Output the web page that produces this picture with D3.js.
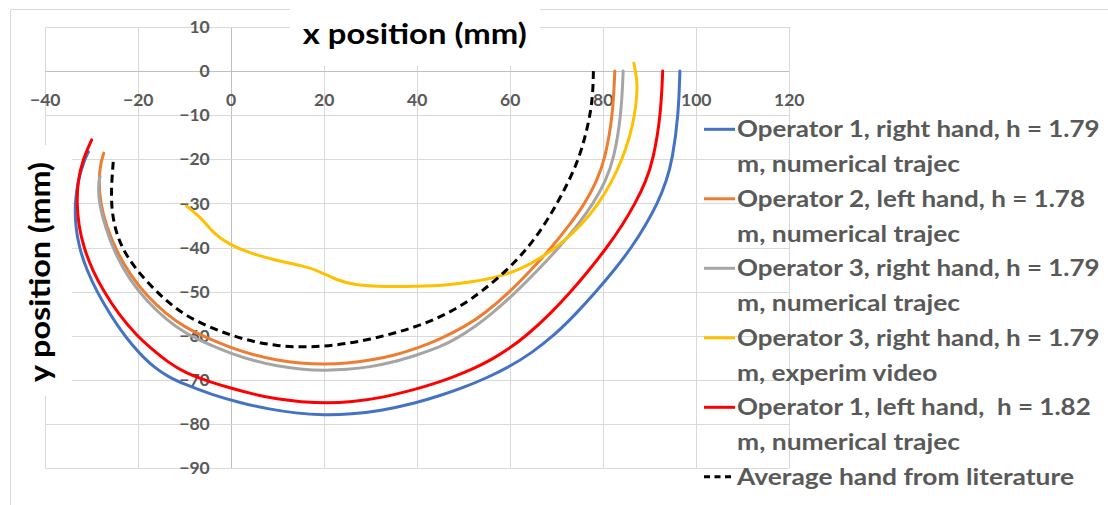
<!DOCTYPE html>
<html>
<head>
<meta charset="utf-8">
<script src="https://cdn.jsdelivr.net/npm/d3@7/dist/d3.min.js"></script>
<style>
  html, body { margin: 0; padding: 0; background: #fff; }
  svg { display: block; font-family: Lato, "Open Sans", sans-serif; }
  text { white-space: pre; }
</style>
</head>
<body>
<svg id="chart" width="1108" height="505"></svg>
<script>
// Hand trajectories in the horizontal plane, x/y in mm
const op1Right = [[96.6,0],[96.3,-10],[95.0,-20],[93.7,-25],[91.8,-30],[89.2,-35],[86.2,-40],[82.6,-45],[78.6,-50],[74.3,-55],[69.5,-60],[64.6,-64],[60,-67],[55,-69.6],[50,-71.8],[45,-73.6],[40,-75.2],[32,-77.1],[26,-77.8],[20,-78],[14,-77.6],[8,-76.6],[2,-75.2],[-4,-73.4],[-10,-71],[-13.5,-69.3],[-16.5,-67.1],[-18.7,-65],[-21.3,-62],[-23.7,-58.7],[-26,-55],[-28.8,-50],[-31,-45],[-32.6,-40],[-33.4,-35],[-33.5,-30],[-32.9,-25],[-31.6,-20.5],[-30.6,-18.3]];
const op2Left = [[82.6,0],[82.2,-10],[80.5,-20],[78.7,-25],[76.2,-30],[72.8,-35],[69.0,-40],[64.7,-45],[60.1,-50],[54.6,-55],[50.6,-57.8],[45,-60.8],[40,-62.9],[35,-64.5],[30,-65.6],[25,-66.3],[20,-66.5],[15,-66.3],[10,-65.6],[5,-64.4],[0,-62.7],[-5,-60.6],[-10,-58.0],[-14,-55.0],[-18,-51.0],[-21.5,-46.4],[-24.5,-41],[-26.8,-35],[-28.0,-30],[-28.4,-25],[-28.0,-21],[-27.3,-18.6]];
const op3RightNum = [[84.4,0],[84.0,-10],[82.4,-20],[80.6,-25],[78.0,-30],[74.6,-35],[70.6,-40],[66.2,-45],[61.5,-50],[56.2,-55],[52.5,-58],[48.8,-60.5],[45,-62.6],[40,-64.4],[35,-66.0],[30,-67.1],[25,-67.7],[20,-67.9],[15,-67.6],[10,-66.9],[5,-65.7],[0,-64.0],[-5,-61.9],[-10,-59.3],[-14,-56.2],[-18,-52.2],[-21.7,-47.4],[-24.8,-41.6],[-27,-35.3],[-28.3,-30],[-28.5,-26],[-28.1,-23.9]];
const op3RightVideo = [[-9.5,-30.6],[-6.2,-33.4],[-3.7,-36.8],[-0.2,-39.4],[4.2,-41.3],[9.2,-42.8],[15.6,-44.2],[18.5,-45.1],[22.8,-47.4],[26.4,-48.5],[33.5,-48.9],[40,-48.8],[46,-48.6],[52.2,-47.8],[57.9,-46.6],[62.5,-44.8],[66.5,-42.5],[70.8,-39.4],[75.4,-35],[79.2,-30],[82.0,-25],[84.2,-20],[85.8,-15],[86.9,-10],[87.4,-5],[87.4,-2],[86.7,1.8]];
const op1Left = [[92.9,0],[92.5,-10],[90.9,-20],[89.3,-25],[87.0,-30],[84.2,-35],[80.9,-40],[77.2,-45],[73.2,-50],[68.8,-55],[63.6,-60],[59.8,-63],[56,-65.5],[52,-67.6],[48,-69.3],[44,-70.8],[40,-72.1],[32,-74.2],[26,-75.0],[21,-75.3],[15,-75.0],[10,-74.4],[5,-73.3],[0,-71.9],[-5,-70.3],[-10,-68.3],[-13.5,-66],[-17,-63],[-20.2,-60],[-24.2,-55],[-27.3,-50],[-29.8,-45],[-31.6,-40],[-32.7,-35],[-33.1,-30],[-32.9,-25],[-31.8,-20],[-29.9,-15.6]];
const literatureAvg = [[78.0,0],[77.9,-5],[77.3,-10],[76.2,-15],[74.8,-20],[72.7,-25],[70.2,-30],[67.4,-35],[64.0,-40],[59.6,-45],[54.0,-50],[49.5,-53.3],[45,-55.8],[40,-57.9],[35,-59.5],[30,-60.8],[25,-61.8],[20,-62.4],[15,-62.6],[10,-62.3],[5,-61.4],[0,-59.9],[-5,-57.9],[-10,-55.2],[-13.1,-52.7],[-16.0,-50],[-20.4,-45],[-23.5,-40],[-25.1,-35],[-25.7,-30],[-25.6,-25],[-25.2,-19.8]];

const seriesNames = [
  ["Operator 1, right hand, h = 1.79", "m, numerical trajec"],
  ["Operator 2, left hand, h = 1.78", "m, numerical trajec"],
  ["Operator 3, right hand, h = 1.79", "m, numerical trajec"],
  ["Operator 3, right hand, h = 1.79", "m, experim video"],
  ["Operator 1, left hand,  h = 1.82", "m, numerical trajec"],
  ["Average hand from literature"]
];
const seriesData = [op1Right, op2Left, op3RightNum, op3RightVideo, op1Left, literatureAvg];
const seriesColors = ["#4472C4", "#ED7D31", "#A5A5A5", "#FFC000", "#FF0000", "#000000"];
const seriesDashed = [false, false, false, false, false, true];

const xTicks = [-40, -20, 0, 20, 40, 60, 80, 100, 120];
const yTicks = [10, 0, -10, -20, -30, -40, -50, -60, -70, -80, -90];
const xTitle = "x position (mm)";
const yTitle = "y position (mm)";

const svg = d3.select("#chart");
const plot = { left: 44.7, right: 788.7, top: 27, bottom: 468 };
const x = d3.scaleLinear().domain([-40, 120]).range([plot.left, plot.right]);
const y = d3.scaleLinear().domain([10, -90]).range([plot.top, plot.bottom]);

const gridColor = "#d9d9d9";
const labelColor = "#595959";

// chart area border (top and left edges)
svg.append("line").attr("x1", 10.5).attr("x2", 1108).attr("y1", 9.5).attr("y2", 9.5)
  .attr("stroke", gridColor).attr("stroke-width", 1);
svg.append("line").attr("x1", 10.5).attr("x2", 10.5).attr("y1", 9.5).attr("y2", 505)
  .attr("stroke", gridColor).attr("stroke-width", 1);

// gridlines
const gx = svg.append("g").attr("transform", `translate(0,${plot.bottom})`)
  .call(d3.axisBottom(x).tickValues(xTicks).tickSize(-(plot.bottom - plot.top)).tickFormat(""));
gx.select(".domain").remove();
gx.selectAll(".tick line").attr("stroke", d => d === 0 ? "#bfbfbf" : gridColor).attr("shape-rendering", "crispEdges");

const gy = svg.append("g").attr("transform", `translate(${plot.left},0)`)
  .call(d3.axisLeft(y).tickValues(yTicks).tickSize(-(plot.right - plot.left)).tickFormat(""));
gy.select(".domain").remove();
gy.selectAll(".tick line").attr("stroke", d => d === 0 ? "#bfbfbf" : gridColor).attr("shape-rendering", "crispEdges");

// title backgrounds
svg.append("rect").attr("x", 290).attr("y", 0).attr("width", 250).attr("height", 66).attr("fill", "#fff");
svg.append("rect").attr("x", 20).attr("y", 145).attr("width", 52).attr("height", 251).attr("fill", "#fff");

// tick labels, crossing at the origin
const xl = svg.append("g").attr("transform", `translate(0,${y(0)})`)
  .call(d3.axisBottom(x).tickValues(xTicks).tickSize(0).tickPadding(22.5).tickFormat(d3.format("d")));
xl.select(".domain").remove();
xl.selectAll("text").attr("font-family", "Lato").attr("font-weight", 700)
  .attr("font-size", 17.5).attr("fill", labelColor);

const yl = svg.append("g").attr("transform", `translate(${x(0)},0)`)
  .call(d3.axisLeft(y).tickValues(yTicks).tickSize(0).tickPadding(21).tickFormat(d3.format("d")));
yl.select(".domain").remove();
yl.selectAll("text").attr("font-family", "Lato").attr("font-weight", 700)
  .attr("font-size", 17.5).attr("fill", labelColor);

// trajectories, smoothed through the sampled points
const line = d3.line().x(d => x(d[0])).y(d => y(d[1])).curve(d3.curveBasis);
seriesData.forEach((data, i) => {
  svg.append("path").datum(data)
    .attr("d", line)
    .attr("fill", "none")
    .attr("stroke", seriesColors[i])
    .attr("stroke-width", 3)
    .attr("stroke-linecap", seriesDashed[i] ? "butt" : "round")
    .attr("stroke-dasharray", seriesDashed[i] ? "8,5" : null);
});

// axis titles
svg.append("text").text(xTitle)
  .attr("x", 302.7).attr("y", 43.5)
  .attr("font-family", "Lato").attr("font-weight", 700).attr("font-size", 29)
  .attr("textLength", 224).attr("lengthAdjust", "spacingAndGlyphs")
  .attr("fill", "#000");
svg.append("text").text(yTitle)
  .attr("transform", "translate(50,382) rotate(-90)")
  .attr("font-family", "Lato").attr("font-weight", 700).attr("font-size", 29)
  .attr("textLength", 220).attr("lengthAdjust", "spacingAndGlyphs")
  .attr("fill", "#000");

// legend
const legendWidths = [[362.6, 223], [348, 223], [362.6, 223], [362.6, 200.3], [353.7, 223], [337]];
const legend = svg.append("g");
seriesNames.forEach((lines, i) => {
  const base = 137 + i * 69.5;
  legend.append("line")
    .attr("x1", 704).attr("x2", 735)
    .attr("y1", base - 7.7).attr("y2", base - 7.7)
    .attr("stroke", seriesColors[i]).attr("stroke-width", 3)
    .attr("stroke-dasharray", seriesDashed[i] ? "6,4.5" : null);
  lines.forEach((t, j) => {
    legend.append("text").text(t)
      .attr("x", 737).attr("y", base + j * 35)
      .attr("font-family", "Lato").attr("font-weight", 700).attr("font-size", 22.5)
      .attr("textLength", legendWidths[i][j]).attr("lengthAdjust", "spacingAndGlyphs")
      .attr("fill", labelColor);
  });
});
</script>
</body>
</html>
